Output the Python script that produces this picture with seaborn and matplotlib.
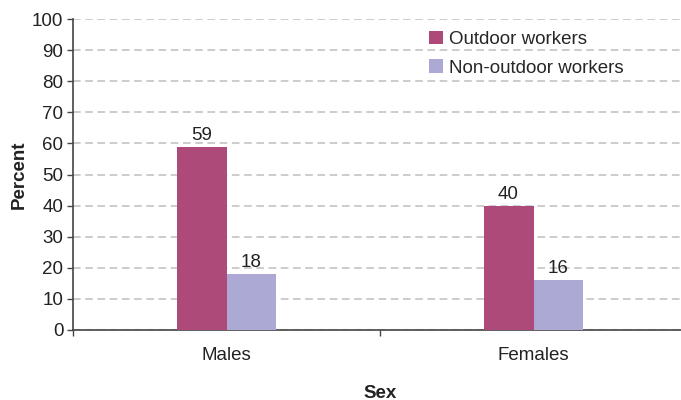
import pandas as pd
import seaborn as sns
import matplotlib
matplotlib.use('Agg')
import matplotlib.pyplot as plt

# data
sexes = ["Males", "Females"]
groups = ["Outdoor workers", "Non-outdoor workers"]
outdoor = [59, 40]
non_outdoor = [18, 16]

df = pd.DataFrame({
    "Sex": sexes * 2,
    "Group": [groups[0]] * 2 + [groups[1]] * 2,
    "Percent": outdoor + non_outdoor,
})

sns.set_theme(style="white")
plt.rcParams['font.family'] = ['Liberation Sans', 'DejaVu Sans']
fs = 13.5

fig = plt.figure(figsize=(6.81, 4.0), dpi=100)
ax = fig.add_axes([73 / 681, 70 / 400, 614 / 681, 311 / 400])

palette = {groups[0]: "#AD4A7A", groups[1]: "#ACA9D5"}
sns.barplot(data=df, x="Sex", y="Percent", hue="Group", order=sexes,
            hue_order=groups, palette=palette, width=0.325, saturation=1,
            linewidth=0, ax=ax, zorder=3)

for cont in ax.containers:
    ax.bar_label(cont, fontsize=fs, padding=2, color="#222222")

ax.set_ylim(0, 100)
ax.set_xlim(-0.5, 1.5)
ax.set_yticks(range(0, 101, 10))
ax.yaxis.grid(True, linestyle=(0, (5, 3)), color="#BFBFBF", linewidth=1.1, zorder=0)
ax.xaxis.grid(False)

ax.tick_params(axis="y", which="major", length=4, width=1, color="#444444",
               labelsize=fs, labelcolor="#222222", left=True, pad=3)
ax.tick_params(axis="x", which="major", length=0, labelsize=fs,
               labelcolor="#222222", pad=12)
ax.set_xticks([-0.5, 0.5, 1.5], minor=True)
ax.tick_params(axis="x", which="minor", length=4, width=1, color="#444444", bottom=True)

ax.set_xlabel("Sex", fontsize=fs, fontweight="bold", labelpad=15, color="#222222")
ax.set_ylabel("Percent", fontsize=fs, fontweight="bold", labelpad=3, color="#222222")

for s in ["top", "right"]:
    ax.spines[s].set_visible(False)
for s in ["left", "bottom"]:
    ax.spines[s].set_color("#444444")
    ax.spines[s].set_linewidth(1.2)

ax.legend(title=None, frameon=False, fontsize=fs, loc="upper left",
          bbox_to_anchor=((421 - 73) / 614, 0.987),
          handlelength=0.75, handleheight=0.75, handletextpad=0.35,
          labelspacing=0.6, borderaxespad=0)

fig.savefig("out.png", dpi=100)
